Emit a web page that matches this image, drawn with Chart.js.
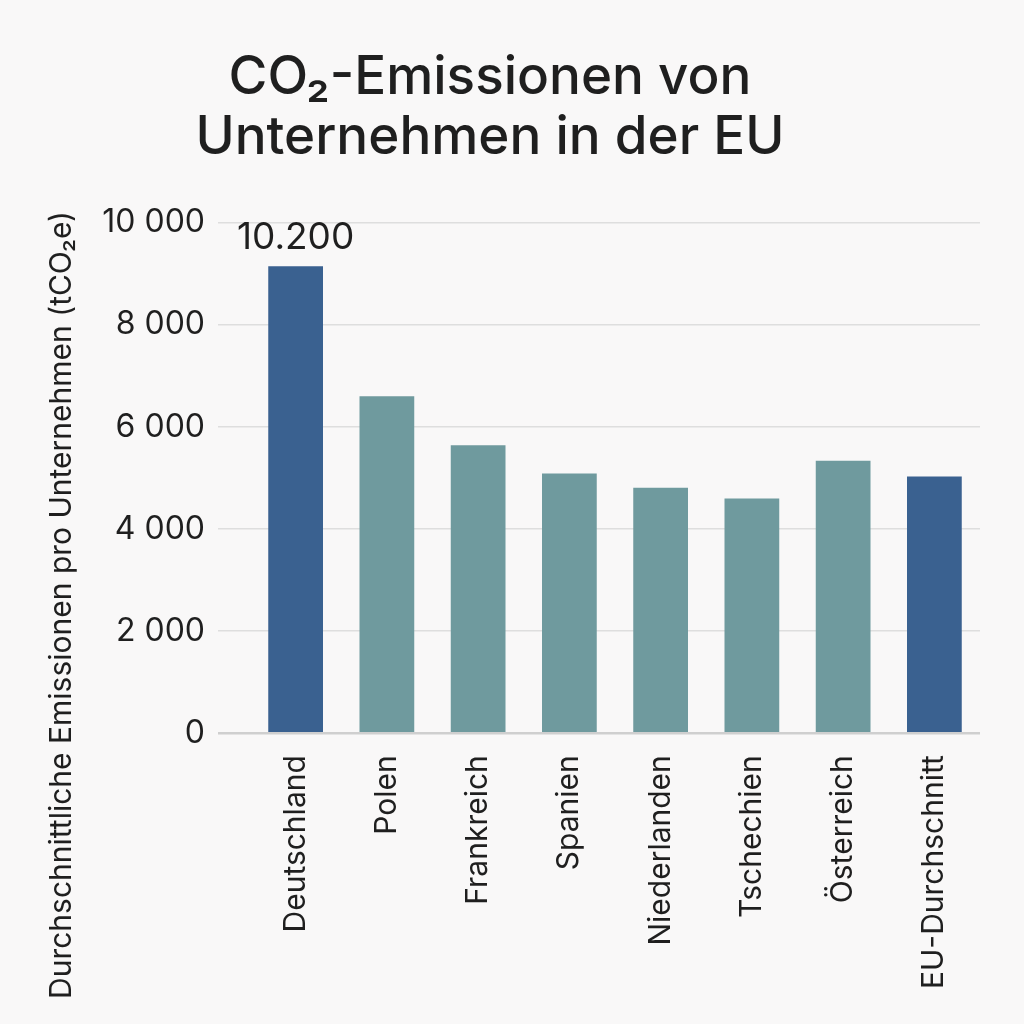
<!DOCTYPE html>
<html>
<head>
<meta charset="utf-8">
<script src="https://cdn.jsdelivr.net/npm/chart.js@4/dist/chart.umd.min.js"></script>
<style>
  html, body { margin: 0; padding: 0; background: #f9f8f8; }
  #wrap { width: 1024px; height: 1024px; }
</style>
</head>
<body>
<div id="wrap"><canvas id="chart" width="1024" height="1024"></canvas></div>
<script>
const countries = ['Deutschland', 'Polen', 'Frankreich', 'Spanien', 'Niederlanden', 'Tschechien', 'Österreich', 'EU-Durchschnitt'];
const emissions = [9150, 6600, 5640, 5090, 4810, 4600, 5340, 5030];
const valueLabels = ['10.200', '', '', '', '', '', '', ''];
const yTicks = [0, 2000, 4000, 6000, 8000, 10000];
const yTitle = 'Durchschnittliche Emissionen pro Unternehmen (tCO₂e)';

const BLUE = '#3a6190';
const TEAL = '#6f9a9e';
const TEXT = '#1f1f1f';
const FONT = 'Inter, "Noto Sans", sans-serif';
const barColors = countries.map((c) => (c === 'Deutschland' || c === 'EU-Durchschnitt') ? BLUE : TEAL);

function formatThousands(v) {
    // space as thousands separator, like "10 000"
    return String(v).replace(/\B(?=(\d{3})+(?!\d))/g, ' ');
}

const valueLabelPlugin = {
    id: 'valueLabels',
    afterDatasetsDraw(chart) {
        const ctx = chart.ctx;
        const meta = chart.getDatasetMeta(0);
        ctx.save();
        ctx.font = '37px ' + FONT;
        ctx.fillStyle = TEXT;
        ctx.textAlign = 'center';
        ctx.textBaseline = 'middle';
        meta.data.forEach((bar, i) => {
            if (valueLabels[i]) {
                ctx.fillText(valueLabels[i], bar.x, bar.y - 28);
            }
        });
        ctx.restore();
    }
};

// the y title sits lower than the axis centre in the original, so draw it by hand
const yTitlePlugin = {
    id: 'yTitle',
    afterDraw(chart) {
        const ctx = chart.ctx;
        ctx.save();
        ctx.translate(62, 605);
        ctx.rotate(-Math.PI / 2);
        ctx.font = '30px ' + FONT;
        ctx.fillStyle = TEXT;
        ctx.textAlign = 'center';
        ctx.textBaseline = 'middle';
        ctx.fillText(yTitle, 0, 0);
        ctx.restore();
    }
};

const ctx = document.querySelector('#chart').getContext('2d');
const chart = new Chart(ctx, {
    type: 'bar',
    data: {
        labels: countries,
        datasets: [{
            data: emissions,
            backgroundColor: barColors,
            borderWidth: 0,
            barPercentage: 0.6,
            categoryPercentage: 1.0
        }]
    },
    options: {
        responsive: false,
        animation: false,
        devicePixelRatio: 1,
        layout: {
            padding: { left: 0, right: 44, top: 48, bottom: 13 }
        },
        plugins: {
            legend: { display: false },
            tooltip: { enabled: false },
            title: {
                display: true,
                text: ['CO₂-Emissionen von', 'Unternehmen in der EU'],
                color: TEXT,
                font: { family: FONT, size: 53, weight: '500', lineHeight: 1.13 },
                padding: { top: 0, bottom: 55 }
            }
        },
        scales: {
            x: {
                grid: { display: false, drawTicks: false },
                border: { display: false },
                ticks: {
                    color: TEXT,
                    font: { family: FONT, size: 30 },
                    minRotation: 90,
                    maxRotation: 90,
                    padding: 22
                }
            },
            y: {
                min: 0,
                max: 10000,
                afterBuildTicks: (axis) => {
                    axis.ticks = yTicks.map((v) => ({ value: v }));
                },
                afterFit: (axis) => {
                    axis.width = 250;
                },
                grid: {
                    color: (c) => c.tick && c.tick.value === 0 ? '#cfcfcf' : '#dedede',
                    lineWidth: (c) => c.tick && c.tick.value === 0 ? 2.5 : 1.5,
                    drawTicks: true,
                    tickLength: 32
                },
                border: { display: false },
                ticks: {
                    color: TEXT,
                    font: { family: FONT, size: 32 },
                    padding: 13,
                    callback: (value) => formatThousands(value)
                }
            }
        }
    },
    plugins: [valueLabelPlugin, yTitlePlugin]
});
</script>
</body>
</html>
